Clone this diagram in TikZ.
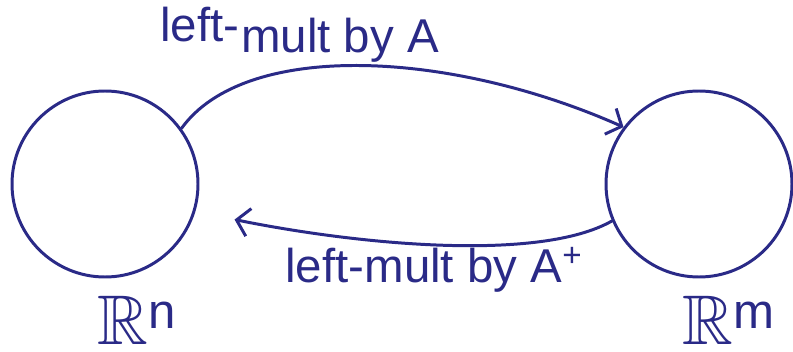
\documentclass[tikz,border=0pt]{standalone}
\usepackage{amsmath,amssymb}
\usepackage{fontspec}
\setmainfont{Liberation Sans}
\usetikzlibrary{arrows.meta,positioning,calc}
\definecolor{ink}{RGB}{42,42,135}

\begin{document}
\begin{tikzpicture}[
        node distance=8.1cm,
        space/.style={draw=ink,circle,line width=1.7pt,minimum size=3.72cm,inner sep=0pt},
        arrow/.style={-{Straight Barb[length=7pt,width=16pt,line width=1.7pt]},draw=ink,line width=1.7pt,line cap=round},
        lbl/.style={text=ink,font=\fontsize{27}{30}\selectfont,inner sep=0pt}
    ]
        \useasboundingbox (0,0) rectangle (15.86,-7.02);

        % Domain
        \node[space] (rn) at (2.1,-3.68) {};
        \node[lbl,font=\fontsize{40}{40}\selectfont,below=0.35cm of rn,xshift=0.65cm] (rnlabel) {$\mathbb{R}^{\text{n}}$};

        % Codomain
        \node[space,right=of rn] (rm) {};
        \node[lbl,font=\fontsize{40}{40}\selectfont,below=0.35cm of rm,xshift=0.6cm] (rmlabel) {$\mathbb{R}^{\text{m}}$};

        % Arrows
        \draw[arrow] (rn.36) .. controls (4.9,-0.8) and (9.0,-1.0) .. (rm.143);
        \draw[arrow,shorten >=0.8cm] (rm.203) .. controls (10.8,-5.24) and (7.2,-4.9) .. (rn.-17);

        % Labels
        \node[lbl] (lefttop) at (4.0,-0.5) {left-};
        \node[lbl] (multtop) at (6.8,-0.8) {mult by A};
        \node[lbl] (multbottom) at (8.68,-5.4) {left-mult by A\textsuperscript{+}};
    \end{tikzpicture}
\end{document}
